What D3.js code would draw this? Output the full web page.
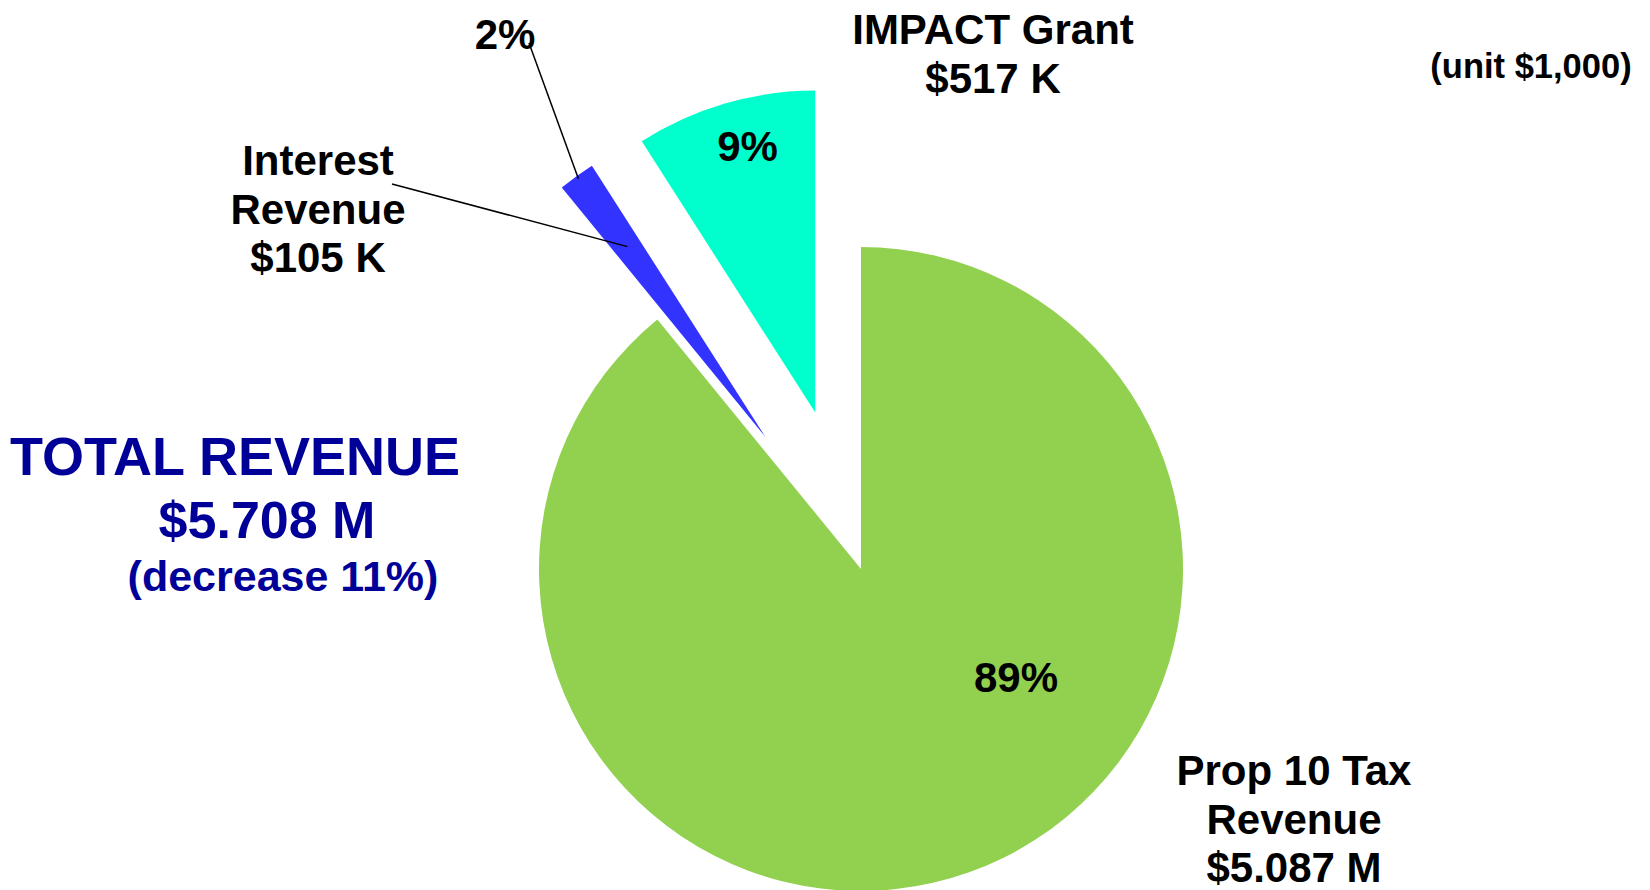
<!DOCTYPE html>
<html lang="en">
<head>
  <meta charset="utf-8">
  <script src="https://d3js.org/d3.v7.min.js" charset="utf-8"></script>
  <title>TOTAL REVENUE</title>
<style>
  body { margin: 0; background: #fff; }
  text {
    font-family: "Liberation Sans", Arial, sans-serif;
    font-weight: bold;
    fill: #000;
    text-anchor: middle;
  }
  .total { fill: #000099; }
  .leader { stroke: #000; stroke-width: 1.5px; fill: none; }
</style>
</head>
<body>
<svg width="1650" height="890" id="chart"></svg>
<script>

// values in $1,000
var categories = ["Prop 10 Tax Revenue", "Interest Revenue", "IMPACT Grant"];
var values = [5087, 105, 517];
var percents = ["89%", "2%", "9%"];
var amounts = ["$5.087 M", "$105 K", "$517 K"];
var nameLines = [["Prop 10 Tax", "Revenue"], ["Interest", "Revenue"], ["IMPACT Grant"]];
var totalLines = ["TOTAL REVENUE", "$5.708 M", "(decrease 11%)"];
var unitText = "(unit $1,000)";

var svg = d3.select("#chart");

var cx = 861, cy = 569, radius = 322, explode = 163;

var color = d3.scaleOrdinal()
    .domain(categories)
    .range(["#92d050", "#3333ff", "#00ffcc"]);

var data = categories.map(function(c, i) {
  return {name: c, value: values[i]};
});

var pie = d3.pie()
    .sort(null)
    .value(function(d) { return d.value; });

var arc = d3.arc()
    .innerRadius(0)
    .outerRadius(radius);

var arcs = pie(data);

// the two small slices are pulled out along their bisector
function offset(d, i) {
  if (i === 0) return [0, 0];
  var a = (d.startAngle + d.endAngle) / 2;
  return [Math.sin(a) * explode, -Math.cos(a) * explode];
}

// point on a slice bisector, r = fraction of radius
function pointAt(i, r) {
  var d = arcs[i];
  var a = (d.startAngle + d.endAngle) / 2, o = offset(d, i);
  return [cx + o[0] + Math.sin(a) * radius * r, cy + o[1] - Math.cos(a) * radius * r];
}

svg.append("g").selectAll("path")
  .data(arcs)
  .enter().append("path")
    .attr("transform", function(d, i) {
      var o = offset(d, i);
      return "translate(" + (cx + o[0]) + "," + (cy + o[1]) + ")";
    })
    .attr("d", arc)
    .attr("fill", function(d) { return color(d.data.name); });

// leader lines to the thin Interest slice
var leaders = [
  {from: [529, 43], r: 0.99},
  {from: [392, 184], r: 0.73}
];
svg.selectAll(".leader")
  .data(leaders)
  .enter().append("line")
    .attr("class", "leader")
    .attr("x1", function(d) { return d.from[0]; })
    .attr("y1", function(d) { return d.from[1]; })
    .attr("x2", function(d) { return pointAt(1, d.r)[0]; })
    .attr("y2", function(d) { return pointAt(1, d.r)[1]; });

// percent labels
var p9 = pointAt(2, 0.86);
var pctPos = [[1016, 692], [505, 49], [p9[0] + 10, p9[1] + 14]];
svg.selectAll(".pct")
  .data(percents)
  .enter().append("text")
    .attr("class", "pct")
    .attr("x", function(d, i) { return pctPos[i][0]; })
    .attr("y", function(d, i) { return pctPos[i][1]; })
    .style("font-size", "42px")
    .text(function(d) { return d; });

// category names with amounts
var namePos = [[1294, 785], [318, 175], [993, 44]];
var lineH = 48.5;
namePos.forEach(function(p, i) {
  var lines = nameLines[i].concat([amounts[i]]);
  svg.append("g").selectAll("text")
    .data(lines)
    .enter().append("text")
      .attr("x", p[0])
      .attr("y", function(d, j) { return p[1] + j * lineH; })
      .style("font-size", "42px")
      .text(function(d) { return d; });
});

// total block
var totalPos = [[235, 475, 54], [267, 538, 52], [283, 591, 43]];
svg.append("g").selectAll("text")
  .data(totalLines)
  .enter().append("text")
    .attr("class", "total")
    .attr("x", function(d, i) { return totalPos[i][0]; })
    .attr("y", function(d, i) { return totalPos[i][1]; })
    .style("font-size", function(d, i) { return totalPos[i][2] + "px"; })
    .text(function(d) { return d; });

svg.append("text")
    .attr("x", 1531)
    .attr("y", 78)
    .style("font-size", "34.5px")
    .text(unitText);

</script>
</body>
</html>
